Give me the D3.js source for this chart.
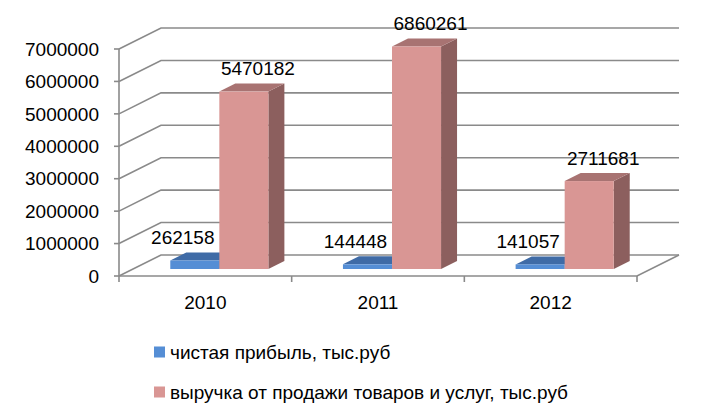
<!DOCTYPE html>
<html><head><meta charset="utf-8">
<script src="https://cdn.jsdelivr.net/npm/d3@7/dist/d3.min.js"></script>
<style>body{margin:0;background:#fff}svg{display:block}text{font-family:"Liberation Sans",Arial,sans-serif;fill:#000}</style>
</head><body><svg id="c" width="717" height="417"></svg>
<script>
const categories = ["2010", "2011", "2012"];
const seriesNames = ["чистая прибыль, тыс.руб", "выручка от продажи товаров и услуг, тыс.руб"];
const profit = [262158, 144448, 141057];
const revenue = [5470182, 6860261, 2711681];
const yTicks = [0, 1000000, 2000000, 3000000, 4000000, 5000000, 6000000, 7000000];

const colors = [
  {front: "#558ED5", top: "#3F6BA6", side: "#2F5283"},
  {front: "#D99694", top: "#A87372", side: "#8C5F5E"}
];

const svg = d3.select("#c");
const y = d3.scaleLinear().domain([0, 7000000]).range([276, 49]);
const x = d3.scaleBand().domain(categories).range([119, 637]);
const xi = d3.scaleBand().domain(seriesNames).range([0, x.bandwidth()]).paddingOuter(0.76);
const wall = {dx: 42, dy: -21};
const barPos = {dx: 14, dy: -7};
const depth = {dx: 16, dy: -8};
const grid = "#8a8a8a";
const fs = 19;

// gridlines on back wall + side wall
const g = svg.append("g").attr("fill", "none").attr("stroke", grid).attr("stroke-width", 1.6);
yTicks.forEach(t => {
  const yy = y(t);
  g.append("path").attr("d", `M${x.range()[0]},${yy} L${x.range()[0] + wall.dx},${yy + wall.dy} L${x.range()[1] + wall.dx},${yy + wall.dy}`);
});
// floor front and right edges
g.append("path").attr("d", `M${x.range()[0]},${y(0)} L${x.range()[1]},${y(0)} L${x.range()[1] + wall.dx},${y(0) + wall.dy}`);
// vertical axis
g.append("path").attr("d", `M${x.range()[0]},${y(yTicks[yTicks.length-1])} L${x.range()[0]},${y(0)}`);
// y tick marks
yTicks.forEach(t => g.append("path").attr("d", `M${x.range()[0] - 5},${y(t)} H${x.range()[0]}`));
// x tick marks
[...categories.map(c => x(c)), x.range()[1]].forEach(xx => g.append("path").attr("d", `M${xx},${y(0)} V${y(0) + 6}`));

// y labels
svg.append("g").selectAll("text").data(yTicks).join("text")
  .attr("x", 99).attr("y", d => y(d)).attr("dy", "0.35em")
  .attr("text-anchor", "end").attr("font-size", fs).text(d => d);

// x labels
svg.append("g").selectAll("text").data(categories).join("text")
  .attr("x", d => x(d) + x.bandwidth() / 2).attr("y", 302).attr("dy", "0.35em")
  .attr("text-anchor", "middle").attr("font-size", fs).text(d => d);

// bars
const allSeries = [profit, revenue];
const bars = svg.append("g");
categories.forEach((c, ci) => {
  allSeries.forEach((vals, si) => {
    const x0 = x(c) + xi(seriesNames[si]) + barPos.dx;
    const x1 = x0 + xi.bandwidth();
    const yb = y(0) + barPos.dy;
    const yt = y(vals[ci]) + barPos.dy;
    const col = colors[si];
    bars.append("path").attr("fill", col.side)
      .attr("d", `M${x1},${yt} L${x1 + depth.dx},${yt + depth.dy} L${x1 + depth.dx},${yb + depth.dy} L${x1},${yb}Z`);
    bars.append("path").attr("fill", col.top)
      .attr("d", `M${x0},${yt} L${x0 + depth.dx},${yt + depth.dy} L${x1 + depth.dx},${yt + depth.dy} L${x1},${yt}Z`);
    bars.append("rect").attr("fill", col.front)
      .attr("x", x0).attr("y", yt).attr("width", x1 - x0).attr("height", yb - yt);
  });
});

// data labels
const labelShift = [-12, 14];
const lab = svg.append("g");
categories.forEach((c, ci) => {
  allSeries.forEach((vals, si) => {
    const x0 = x(c) + xi(seriesNames[si]) + barPos.dx;
    const cx = x0 + xi.bandwidth() / 2 + labelShift[si];
    const yt = y(vals[ci]) + barPos.dy;
    lab.append("text").attr("x", cx).attr("y", yt - 23).attr("dy", "0.35em")
      .attr("text-anchor", "middle").attr("font-size", fs).text(vals[ci]);
  });
});

// legend
const leg = svg.append("g");
seriesNames.forEach((n, i) => {
  const ly = 352 + i * 40;
  leg.append("rect").attr("x", 154).attr("y", ly - 5.5).attr("width", 11).attr("height", 11).attr("fill", colors[i].front);
  leg.append("text").attr("x", 170).attr("y", ly).attr("dy", "0.35em").attr("font-size", fs).text(n);
});
</script></body></html>
